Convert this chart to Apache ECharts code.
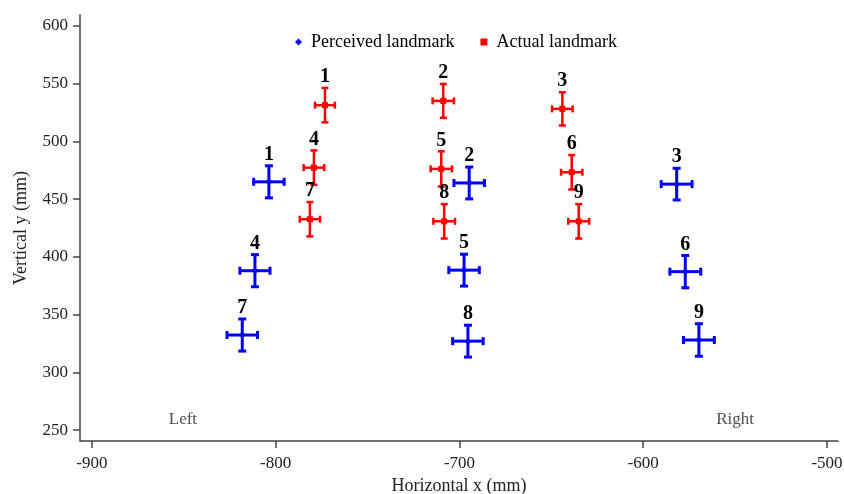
<!DOCTYPE html>
<html lang="en">
<head>
    <meta charset="utf-8">
    <title>Landmarks</title>
    <script src="https://cdn.jsdelivr.net/npm/echarts@6.0.0/dist/echarts.min.js"></script>
    <style>
        html, body { margin: 0; padding: 0; background: #fff; }
    </style>
</head>
<body>
<div id="chart" style="width: 844px; height: 494px;"></div>
<script>
    // landmark numbers
    var landmarkIds = ['1', '2', '3', '4', '5', '6', '7', '8', '9'];

    // perceived landmark (blue)
    var perceivedX = [-803.7, -694.7, -581.8, -811.3, -697.5, -577.1, -818.2, -695.4, -569.7];
    var perceivedY = [465.0, 464.0, 463.0, 388.0, 388.5, 387.2, 332.3, 327.0, 328.0];
    var perceivedXErr = [8.3, 8.3, 8.4, 8.2, 8.3, 8.4, 8.3, 8.3, 8.4];
    var perceivedYErr = [13.9, 13.8, 13.7, 13.9, 13.8, 14.0, 13.9, 13.8, 14.1];

    // actual landmark (red)
    var actualX = [-773.2, -708.8, -644.0, -779.2, -709.9, -638.9, -781.4, -708.3, -635.1];
    var actualY = [531.4, 535.1, 528.2, 477.3, 476.2, 473.3, 432.6, 430.8, 430.8];
    var actualXErr = [5.4, 5.8, 5.6, 5.6, 5.8, 5.8, 5.5, 5.9, 5.7];
    var actualYErr = [14.9, 14.7, 14.4, 14.9, 15.2, 14.9, 14.9, 14.9, 14.9];

    // side notes
    var sideText = ['Left', 'Right'];
    var sideX = [-850.5, -550.0];
    var sideY = [258.7, 258.7];

    var xTicks = [-900, -800, -700, -600, -500];
    var yTicks = [250, 300, 350, 400, 450, 500, 550, 600];

    var serif = '"Liberation Serif", "Times New Roman", serif';

    function buildRows(xs, ys, exs, eys) {
        return xs.map(function (x, i) {
            return [x, ys[i], exs[i], eys[i], landmarkIds[i]];
        });
    }

    function makeRender(color, lineW, capHalf, marker) {
        return function (params, api) {
            var x = api.value(0), y = api.value(1);
            var ex = api.value(2), ey = api.value(3);
            var c = api.coord([x, y]);
            var l = api.coord([x - ex, y]);
            var r = api.coord([x + ex, y]);
            var t = api.coord([x, y + ey]);
            var b = api.coord([x, y - ey]);
            var st = {stroke: color, lineWidth: lineW};
            var kids = [
                {type: 'line', shape: {x1: l[0], y1: c[1], x2: r[0], y2: c[1]}, style: st},
                {type: 'line', shape: {x1: c[0], y1: t[1], x2: c[0], y2: b[1]}, style: st},
                {type: 'line', shape: {x1: l[0], y1: c[1] - capHalf, x2: l[0], y2: c[1] + capHalf}, style: st},
                {type: 'line', shape: {x1: r[0], y1: c[1] - capHalf, x2: r[0], y2: c[1] + capHalf}, style: st},
                {type: 'line', shape: {x1: c[0] - capHalf, y1: t[1], x2: c[0] + capHalf, y2: t[1]}, style: st},
                {type: 'line', shape: {x1: c[0] - capHalf, y1: b[1], x2: c[0] + capHalf, y2: b[1]}, style: st}
            ];
            if (marker === 'diamond') {
                kids.push({type: 'polygon', shape: {points: [[c[0], c[1] - 3.5], [c[0] + 3.5, c[1]], [c[0], c[1] + 3.5], [c[0] - 3.5, c[1]]]}, style: {fill: color}});
            } else {
                kids.push({type: 'rect', shape: {x: c[0] - 3, y: c[1] - 3, width: 6, height: 6}, style: {fill: color}});
            }
            kids.push({
                type: 'text',
                style: {
                    text: api.value(4),
                    x: c[0], y: t[1] - 1,
                    align: 'center', verticalAlign: 'bottom',
                    font: 'bold 20px ' + serif,
                    fill: '#000'
                }
            });
            return {type: 'group', children: kids};
        };
    }

    var chart = echarts.init(document.getElementById('chart'));
    var option = {
        animation: false,
        backgroundColor: '#fff',
        grid: {left: 80, right: 6, top: 15, bottom: 53, containLabel: false, outerBoundsMode: 'none'},
        legend: {
            top: 28,
            left: 290,
            itemWidth: 7,
            itemHeight: 7,
            itemGap: 26,
            textStyle: {fontFamily: serif, fontSize: 18, color: '#000', padding: [0, 0, 0, 4]},
            data: [
                {name: 'Perceived landmark', icon: 'diamond'},
                {name: 'Actual landmark', icon: 'rect'}
            ]
        },
        xAxis: {
            type: 'value',
            min: -906.5,
            max: -494,
            name: 'Horizontal x (mm)',
            nameLocation: 'middle',
            nameGap: 35,
            nameTextStyle: {fontFamily: serif, fontSize: 18, color: '#222'},
            axisLine: {show: true, onZero: false, lineStyle: {color: '#444', width: 1.5}},
            axisTick: {show: true, length: 7, customValues: xTicks, lineStyle: {color: '#444', width: 1.5}},
            axisLabel: {customValues: xTicks, margin: 14, fontFamily: serif, fontSize: 17, color: '#222'},
            splitLine: {show: false}
        },
        yAxis: {
            type: 'value',
            min: 240.5,
            max: 609.5,
            name: 'Vertical y (mm)',
            nameLocation: 'middle',
            nameGap: 50,
            nameTextStyle: {fontFamily: serif, fontSize: 18, color: '#222'},
            axisLine: {show: true, onZero: false, lineStyle: {color: '#444', width: 1.5}},
            axisTick: {show: true, length: 7, customValues: yTicks, lineStyle: {color: '#444', width: 1.5}},
            axisLabel: {customValues: yTicks, margin: 12, fontFamily: serif, fontSize: 17, color: '#222'},
            splitLine: {show: false}
        },
        series: [
            {
                name: 'Perceived landmark',
                type: 'custom',
                itemStyle: {color: '#0000ff'},
                renderItem: makeRender('#0000ff', 3, 4, 'diamond'),
                encode: {x: 0, y: 1},
                data: buildRows(perceivedX, perceivedY, perceivedXErr, perceivedYErr)
            },
            {
                name: 'Actual landmark',
                type: 'custom',
                itemStyle: {color: '#ff0000'},
                renderItem: makeRender('#ff0000', 2.5, 3.5, 'rect'),
                encode: {x: 0, y: 1},
                data: buildRows(actualX, actualY, actualXErr, actualYErr)
            },
            {
                name: 'side',
                type: 'scatter',
                symbolSize: 0,
                silent: true,
                label: {
                    show: true,
                    position: 'inside',
                    formatter: function (p) { return p.data[2]; },
                    fontFamily: serif, fontSize: 17, color: '#222'
                },
                data: sideText.map(function (s, i) { return [sideX[i], sideY[i], s]; })
            }
        ]
    };
    chart.setOption(option);
</script>
</body>
</html>
